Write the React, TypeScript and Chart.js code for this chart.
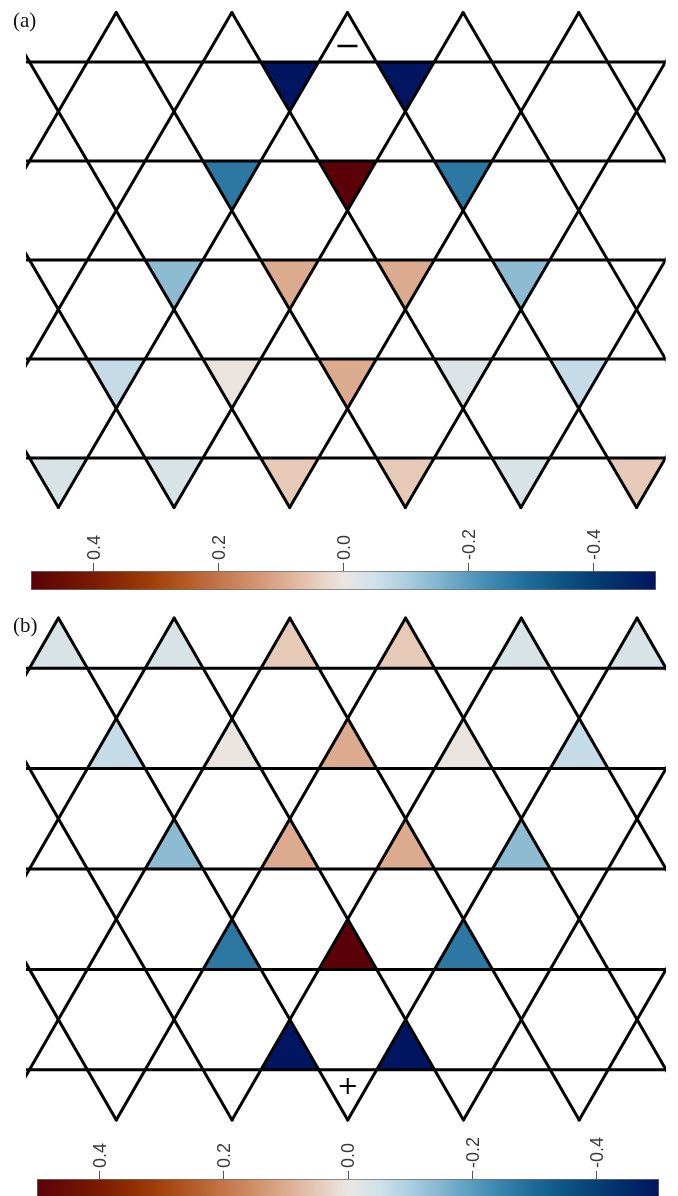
import React, { useEffect, useRef } from 'react';
import { Chart, registerables } from 'chart.js';

Chart.register(...registerables);

const R3 = Math.sqrt(3);

// Triangle amplitudes, one array per horizontal chain (top to bottom).
// null = triangle left white.
const A_CHAIN_1 = [null, null, -0.5, -0.5, null, null];
const A_CHAIN_2 = [null, -0.27, 0.5, -0.27, null];
const A_CHAIN_3 = [null, -0.14, 0.1, 0.1, -0.14, null];
const A_CHAIN_4 = [-0.065, 0.005, 0.1, -0.03, -0.065];
const A_CHAIN_5 = [-0.035, -0.035, 0.05, 0.05, -0.035, 0.05];

const B_CHAIN_1 = [-0.035, -0.035, 0.05, 0.05, -0.035, -0.035];
const B_CHAIN_2 = [-0.065, 0.005, 0.1, 0.005, -0.065];
const B_CHAIN_3 = [null, -0.14, 0.1, 0.1, -0.14, null];
const B_CHAIN_4 = [null, -0.27, 0.5, -0.27, null];
const B_CHAIN_5 = [null, null, -0.5, -0.5, null, null];

// Colour bar
const CBAR_TICKS = [0.4, 0.2, 0.0, -0.2, -0.4];
const CBAR_MIN = -0.5;
const CBAR_MAX = 0.5;

// Diverging colour map (blue for negative, brown/red for positive)
const CMAP_VALUES = [
  -0.5, -0.45, -0.4, -0.35, -0.3, -0.25, -0.2, -0.15, -0.1, -0.05, 0,
  0.05, 0.1, 0.15, 0.2, 0.25, 0.3, 0.35, 0.4, 0.45, 0.5,
];
const CMAP_COLORS = [
  '#011560', '#022a68', '#053f73', '#0c5483', '#1d6a98', '#3682ab', '#5a9bbf',
  '#84b6cf', '#abcee0', '#d0e1ea', '#ebe6e2', '#e6c9b7', '#dcab8f', '#d08f6a',
  '#c3754a', '#b55b27', '#a3420d', '#8f2d04', '#7a1b03', '#6a0e05', '#5b0209',
];

// Lattice window (units of the triangle side)
const X_MIN = -0.56;
const X_MAX = 10.5;
const Y_MAX = R3 / 2;
const Y_MIN = -4.5 * R3;
const N_CHAINS = 5;

function hexToRgb(h: string) {
  const n = parseInt(h.slice(1), 16);
  return [(n >> 16) & 255, (n >> 8) & 255, n & 255];
}

function colorAt(v: number) {
  const t = Math.max(CBAR_MIN, Math.min(CBAR_MAX, v));
  let i = 0;
  while (i < CMAP_VALUES.length - 2 && t > CMAP_VALUES[i + 1]) i++;
  const f = (t - CMAP_VALUES[i]) / (CMAP_VALUES[i + 1] - CMAP_VALUES[i]);
  const a = hexToRgb(CMAP_COLORS[i]);
  const b = hexToRgb(CMAP_COLORS[i + 1]);
  const c = a.map((x, k) => Math.round(x + (b[k] - x) * f));
  return `rgb(${c[0]},${c[1]},${c[2]})`;
}

type Pt = { x: number; y: number };

// Three families of kagome lines: horizontal, "\" (x + y/√3 = c) and "/" (x - y/√3 = c)
function latticeSegments(offBack: number, offFwd: number): Pt[][] {
  const segs: Pt[][] = [];
  for (let k = 0; k < N_CHAINS; k++) {
    segs.push([{ x: X_MIN, y: -k * R3 }, { x: X_MAX, y: -k * R3 }]);
  }
  for (let j = -5; j <= 9; j++) {
    const c = offBack + 2 * j;
    const xa = c - Y_MAX / R3;
    const xb = c - Y_MIN / R3;
    if (Math.max(xa, xb) > X_MIN && Math.min(xa, xb) < X_MAX) {
      segs.push([{ x: xa, y: Y_MAX }, { x: xb, y: Y_MIN }]);
    }
    const c2 = offFwd + 2 * j;
    const xc = c2 + Y_MAX / R3;
    const xd = c2 + Y_MIN / R3;
    if (Math.max(xc, xd) > X_MIN && Math.min(xc, xd) < X_MAX) {
      segs.push([{ x: xc, y: Y_MAX }, { x: xd, y: Y_MIN }]);
    }
  }
  return segs;
}

function panelConfig(
  chains: (number | null)[][],
  dir: 1 | -1,
  offBack: number,
  offFwd: number,
  mark: { y: number; style: string; radius: number; width: number },
  padding: { left: number; right: number; top: number; bottom: number }
): any {
  const datasets: any[] = [];

  latticeSegments(offBack, offFwd).forEach((seg) => {
    datasets.push({
      data: seg,
      borderColor: '#000',
      borderWidth: 3,
      borderCapStyle: 'round',
      pointRadius: 0,
      fill: false,
      order: 1,
      clip: { left: 0, right: 0, top: 4, bottom: 4 },
    });
  });

  chains.forEach((vals, r) => {
    const y0 = -r * R3;
    const first = r % 2 === 0 ? 0 : 1;
    vals.forEach((v, i) => {
      if (v === null) return;
      const xc = first + 2 * i;
      datasets.push({
        data: [
          { x: xc - 0.5, y: y0 },
          { x: xc, y: y0 + (dir * R3) / 2 },
          { x: xc + 0.5, y: y0 },
        ],
        fill: { value: y0 },
        backgroundColor: colorAt(v),
        borderWidth: 0,
        pointRadius: 0,
        order: 2,
      });
    });
  });

  datasets.push({
    data: [{ x: 5, y: mark.y }],
    showLine: false,
    pointStyle: mark.style,
    pointRadius: mark.radius,
    pointBorderWidth: mark.width,
    pointBorderColor: '#000',
    pointBackgroundColor: '#000',
    order: 0,
    clip: false,
  });

  return {
    type: 'line',
    data: { datasets },
    options: {
      responsive: false,
      maintainAspectRatio: false,
      animation: false,
      events: [],
      layout: { padding },
      scales: {
        x: { type: 'linear', min: X_MIN, max: X_MAX, display: false },
        y: { type: 'linear', min: Y_MIN, max: Y_MAX, display: false },
      },
      plugins: { legend: { display: false }, tooltip: { enabled: false } },
    },
  };
}

function colorbarConfig(padding: { left: number; right: number; top: number; bottom: number }): any {
  return {
    type: 'bar',
    data: {
      labels: [''],
      datasets: [
        {
          data: [[CBAR_MIN, CBAR_MAX]],
          backgroundColor: (c: any) => {
            const chart = c.chart;
            if (!chart.chartArea) return CMAP_COLORS[10];
            const xs = chart.scales.x;
            const g = chart.ctx.createLinearGradient(
              xs.getPixelForValue(CBAR_MIN), 0, xs.getPixelForValue(CBAR_MAX), 0
            );
            CMAP_VALUES.forEach((v, i) =>
              g.addColorStop((v - CBAR_MIN) / (CBAR_MAX - CBAR_MIN), CMAP_COLORS[i])
            );
            return g;
          },
          borderColor: '#6e6e6e',
          borderWidth: 1,
          borderSkipped: false,
          barPercentage: 1,
          categoryPercentage: 1,
        },
      ],
    },
    options: {
      indexAxis: 'y',
      responsive: false,
      maintainAspectRatio: false,
      animation: false,
      events: [],
      layout: { padding },
      scales: {
        x: {
          type: 'linear',
          position: 'top',
          min: CBAR_MIN,
          max: CBAR_MAX,
          reverse: true,
          afterBuildTicks: (s: any) => {
            s.ticks = CBAR_TICKS.map((value) => ({ value }));
          },
          afterFit: (s: any) => {
            s.height = 44;
          },
          ticks: {
            minRotation: 90,
            maxRotation: 90,
            autoSkip: false,
            padding: 3,
            labelOffset: 23,
            color: '#3a3a3a',
            font: { family: "'Liberation Sans', Arial, sans-serif", size: 18, lineHeight: 1.2 },
            callback: (v: any) => Number(v).toFixed(1),
          },
          grid: { drawOnChartArea: false, tickLength: 8, color: '#555', lineWidth: 1 },
          border: { display: false },
        },
        y: { display: false },
      },
      plugins: { legend: { display: false }, tooltip: { enabled: false } },
    },
  };
}

function ChartCanvas(props: { make: () => any; left: number; top: number; width: number; height: number }) {
  const ref = useRef<HTMLCanvasElement>(null);
  useEffect(() => {
    const chart = new Chart(ref.current as HTMLCanvasElement, props.make());
    return () => chart.destroy();
  }, []);
  return (
    <canvas
      ref={ref}
      width={props.width}
      height={props.height}
      style={{ position: 'absolute', left: props.left, top: props.top, width: props.width, height: props.height }}
    />
  );
}

const panelLabel: React.CSSProperties = {
  position: 'absolute',
  fontFamily: "'Liberation Serif', 'Times New Roman', serif",
  fontSize: 21,
  lineHeight: 1,
  color: '#111',
};

export default function App() {
  const chainsA = [A_CHAIN_1, A_CHAIN_2, A_CHAIN_3, A_CHAIN_4, A_CHAIN_5];
  const chainsB = [B_CHAIN_1, B_CHAIN_2, B_CHAIN_3, B_CHAIN_4, B_CHAIN_5];
  return (
    <div
      style={{
        position: 'fixed',
        left: 0,
        top: 0,
        width: 678,
        height: 1196,
        overflow: 'hidden',
        background: '#fff',
      }}
    >
      <ChartCanvas
        make={() =>
          panelConfig(chainsA, -1, 1.5, 0.5, { y: 0.28, style: 'line', radius: 10, width: 2.5 }, {
            left: 26, right: 12, top: 10, bottom: 11,
          })
        }
        left={0}
        top={0}
        width={678}
        height={520}
      />
      <ChartCanvas
        make={() => colorbarConfig({ left: 31, right: 22, top: 7, bottom: 2 })}
        left={0}
        top={520}
        width={678}
        height={72}
      />
      <ChartCanvas
        make={() =>
          panelConfig(chainsB, 1, 0.5, 1.5, { y: -4 * R3 - 0.28, style: 'cross', radius: 8, width: 2 }, {
            left: 26, right: 12, top: 10, bottom: 13,
          })
        }
        left={0}
        top={608}
        width={678}
        height={525}
      />
      <ChartCanvas
        make={() => colorbarConfig({ left: 37, right: 19, top: 10, bottom: 0 })}
        left={0}
        top={1125}
        width={678}
        height={100}
      />
      <span style={{ ...panelLabel, left: 13, top: 10 }}>(a)</span>
      <span style={{ ...panelLabel, left: 13, top: 615 }}>(b)</span>
    </div>
  );
}
